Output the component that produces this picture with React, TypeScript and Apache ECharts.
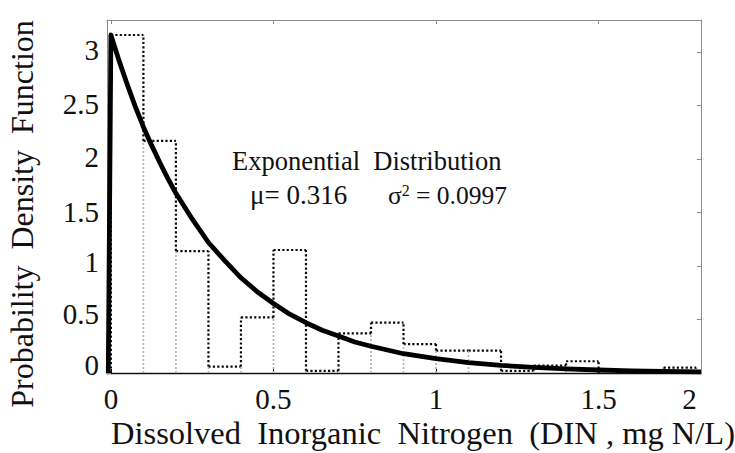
import React, { useEffect, useRef } from 'react';
import * as echarts from 'echarts';

// ---- data ----
const binStarts = [0, 0.1, 0.2, 0.3, 0.4, 0.5, 0.6, 0.7, 0.8, 0.9, 1.0, 1.1, 1.2, 1.3, 1.4, 1.5, 1.6, 1.7];
const binWidth = 0.1;
const histDensity = [3.16, 2.17, 1.14, 0.06, 0.52, 1.15, 0.02, 0.37, 0.47, 0.27, 0.21, 0.21, 0.02, 0.07, 0.11, 0, 0, 0.05];

const curveX = [-0.008, 0, 0.025, 0.05, 0.075, 0.1, 0.125, 0.15, 0.175, 0.2, 0.25, 0.3, 0.35, 0.4, 0.45, 0.5, 0.55, 0.6, 0.65, 0.7, 0.75, 0.8, 0.9, 1.0, 1.1, 1.2, 1.3, 1.4, 1.5, 1.6, 1.7, 1.815];
const curveY = [0, 3.16, 2.92, 2.70, 2.49, 2.30, 2.13, 1.97, 1.82, 1.68, 1.44, 1.22, 1.05, 0.89, 0.76, 0.65, 0.55, 0.47, 0.40, 0.345, 0.29, 0.25, 0.18, 0.134, 0.097, 0.071, 0.052, 0.038, 0.028, 0.020, 0.015, 0.010];

const xTickValues = [0, 0.5, 1, 1.5];
const xLabelValues = [0, 0.5, 1, 1.5, 1.78];
const xLabelTexts = ['0', '0.5', '1', '1.5', '2'];
const yTickValues = [0, 0.5, 1, 1.5, 2, 2.5, 3];
const yLabelTexts = ['0', '0.5', '1', '1.5', '2', '2.5', '3'];

const xTitle = 'Dissolved  Inorganic  Nitrogen  (DIN , mg N/L)';
const yTitle = 'Probability  Density  Function';
const noteTitle = 'Exponential  Distribution';
const noteMu = 'μ= 0.316';
const noteSigma = 'σ';
const noteVar = '= 0.0997';

// layout / style (not data)
const FONT = 'Liberation Serif, serif';
const yLabelLift = [8, 6, 4, 1, 2, 2, 2];

export default function App() {
  const ref = useRef<HTMLDivElement>(null);

  useEffect(() => {
    if (!ref.current) return;
    const chart = echarts.init(ref.current, undefined, { renderer: 'svg' });

    const histData = histDensity.map((h, i) => [
      binStarts[i],
      binStarts[i] + binWidth,
      h,
      i > 0 ? histDensity[i - 1] : 0,
      i === histDensity.length - 1 ? 1 : 0,
    ]);

    const dotted = { stroke: '#0a0a0a', lineWidth: 2.2, lineDash: [2.2, 2.2] };
    const faint = { stroke: '#b0b0b0', lineWidth: 1.6, lineDash: [2, 2] };

    const renderItem = (params: any, api: any) => {
      const x0 = api.value(0);
      const x1 = api.value(1);
      const h = api.value(2);
      const prev = api.value(3);
      const last = api.value(4);
      const children: any[] = [];
      const seg = (xa: number, ya: number, xb: number, yb: number, style: any) => {
        const p1 = api.coord([xa, ya]);
        const p2 = api.coord([xb, yb]);
        children.push({ type: 'line', shape: { x1: p1[0], y1: p1[1], x2: p2[0], y2: p2[1] }, style });
      };
      if (h > 0) seg(x0, h, x1, h, dotted);
      const lo = Math.min(prev, h);
      const hi = Math.max(prev, h);
      if (hi > lo) seg(x0, lo, x0, hi, dotted);
      if (lo > 0) seg(x0, 0, x0, lo, faint);
      if (last && h > 0) seg(x1, 0, x1, h, dotted);
      return { type: 'group', children };
    };

    const yRich: any = {};
    yLabelLift.forEach((s, i) => {
      yRich['l' + i] = { fontFamily: FONT, fontSize: 29, color: '#111', padding: [0, 0, 2 * s, 0] };
    });

    chart.setOption({
      animation: false,
      backgroundColor: '#ffffff',
      grid: { left: 107, top: 20, right: 34, bottom: 80, containLabel: false },
      xAxis: [
        {
          type: 'value', min: -0.012, max: 1.815, position: 'bottom',
          axisLine: { onZero: false, lineStyle: { color: '#111', width: 1.3 } },
          axisTick: { show: true, inside: true, length: 4, customValues: xTickValues, lineStyle: { color: '#111' } },
          axisLabel: {
            fontFamily: FONT, fontSize: 29, lineHeight: 28, color: '#111', margin: 12, customValues: xLabelValues,
            formatter: (v: number) => {
              const i = xLabelValues.findIndex((t) => Math.abs(t - v) < 1e-6);
              return i >= 0 ? xLabelTexts[i] : '';
            },
          },
          splitLine: { show: false },
        },
        {
          type: 'value', min: -0.012, max: 1.815, position: 'top',
          axisLine: { onZero: false, lineStyle: { color: '#8c8c8c', width: 1 } },
          axisTick: { show: true, inside: true, length: 4, customValues: xTickValues, lineStyle: { color: '#8c8c8c' } },
          axisLabel: { show: false },
          splitLine: { show: false },
        },
      ],
      yAxis: [
        {
          type: 'value', min: 0, max: 3.3, position: 'left',
          axisLine: { show: true, onZero: false, lineStyle: { color: '#8c8c8c', width: 1 } },
          axisTick: { show: true, inside: true, length: 4, customValues: yTickValues, lineStyle: { color: '#8c8c8c' } },
          axisLabel: {
            fontFamily: FONT, fontSize: 29, color: '#111', margin: 8, customValues: yTickValues,
            formatter: (v: number) => {
              const i = yTickValues.findIndex((t) => Math.abs(t - v) < 1e-6);
              return i >= 0 ? `{l${i}|${yLabelTexts[i]}}` : '';
            },
            rich: yRich,
          },
          splitLine: { show: false },
        },
        {
          type: 'value', min: 0, max: 3.3, position: 'right',
          axisLine: { show: true, onZero: false, lineStyle: { color: '#8c8c8c', width: 1 } },
          axisTick: { show: true, inside: true, length: 4, customValues: yTickValues, lineStyle: { color: '#8c8c8c' } },
          axisLabel: { show: false },
          splitLine: { show: false },
        },
      ],
      series: [
        {
          type: 'custom',
          name: 'Histogram',
          xAxisIndex: 0,
          yAxisIndex: 0,
          clip: true,
          renderItem,
          data: histData,
          encode: { x: [0, 1], y: 2 },
          silent: true,
        },
        {
          type: 'line',
          name: 'Exponential PDF',
          xAxisIndex: 0,
          yAxisIndex: 0,
          data: curveX.map((x, i) => [x, curveY[i]]),
          showSymbol: false,
          symbol: 'none',
          clip: true,
          lineStyle: { color: '#000', width: 4.8, join: 'round' },
          silent: true,
        },
      ],
      graphic: [
        {
          type: 'text', x: 22, y: 214, rotation: Math.PI / 2,
          style: { text: yTitle, font: `32px ${FONT}`, fill: '#111', align: 'center', verticalAlign: 'middle' },
        },
        {
          type: 'text', x: 423, y: 433,
          style: { text: xTitle, font: `32.5px ${FONT}`, lineHeight: 32, fill: '#111', align: 'center', verticalAlign: 'middle' },
        },
        {
          type: 'text', x: 232, y: 161,
          style: { text: noteTitle, font: `26.5px ${FONT}`, fill: '#111', align: 'left', verticalAlign: 'middle' },
        },
        {
          type: 'text', x: 250, y: 195,
          style: { text: noteMu, font: `27px ${FONT}`, fill: '#111', align: 'left', verticalAlign: 'middle' },
        },
        {
          type: 'text', x: 388, y: 195,
          style: {
            text: `{a|${noteSigma}}{s|2}{a| ${noteVar}}`,
            align: 'left', verticalAlign: 'middle',
            rich: {
              a: { fontFamily: FONT, fontSize: 25.5, fill: '#111' },
              s: { fontFamily: FONT, fontSize: 16, fill: '#111', verticalAlign: 'top' },
            },
          },
        },
      ],
    });

    return () => chart.dispose();
  }, []);

  return (
    <div
      ref={ref}
      style={{ position: 'absolute', left: 0, top: 0, width: 735, height: 453, background: '#fff' }}
    />
  );
}
